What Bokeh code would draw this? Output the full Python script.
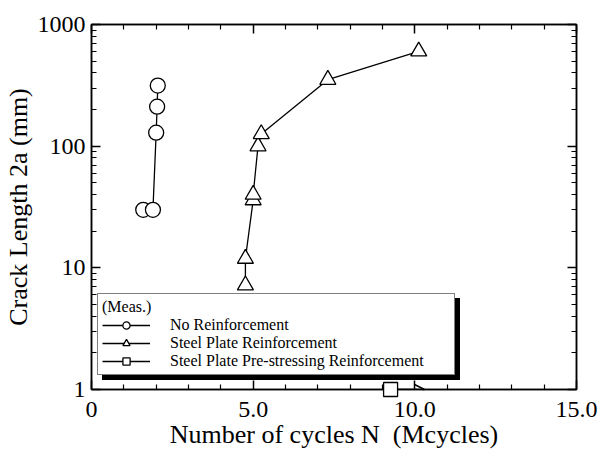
from bokeh.plotting import figure
from bokeh.models import (FixedTicker, CustomJSTickFormatter, LinearAxis, LogAxis,
                          Legend, LegendItem, Arrow, OpenHead, Range1d)
from bokeh.embed import file_html
from bokeh.resources import INLINE

# ---- data ----
no_x = [1.6, 1.9, 2.0, 2.03, 2.05]
no_y = [30, 30, 129, 211, 315]
sp_x = [4.76, 4.76, 5.0, 5.0, 5.15, 5.25, 7.31, 10.12]
sp_y = [7.2, 11.9, 36, 40, 100, 126, 352, 602]
ps_x = [9.25]
ps_y = [1]
ps_arrow_end = [10.3]

x_major = [0, 5, 10, 15]
x_minor = [1, 2, 3, 4, 6, 7, 8, 9, 11, 12, 13, 14]
y_major = [1, 10, 100, 1000]
y_minor = [m * d for d in (1, 10, 100) for m in range(2, 10)]

labels = ["No Reinforcement", "Steel Plate Reinforcement",
          "Steel Plate Pre-stressing Reinforcement"]
legend_title = "(Meas.)"

FONT = "Liberation Serif"

p = figure(frame_width=485, frame_height=365, y_axis_type="log",
           x_range=Range1d(0, 15), y_range=Range1d(1, 1000),
           output_backend="svg", toolbar_location=None,
           min_border_left=83, min_border_top=24, min_border_right=22, min_border_bottom=53)
p.grid.visible = False
p.outline_line_color = "black"
p.outline_line_width = 1.5
p.background_fill_color = "white"
p.border_fill_color = "white"

xt = FixedTicker(ticks=x_major, minor_ticks=x_minor)
yt = FixedTicker(ticks=y_major, minor_ticks=y_minor)
xfmt = CustomJSTickFormatter(code="return tick == 0 ? '0' : tick.toFixed(1);")
yfmt = CustomJSTickFormatter(code="return tick.toFixed(0);")

def style(ax, show_labels=True):
    ax.axis_line_color = "black"
    ax.axis_line_width = 1.5
    ax.major_tick_in = 9
    ax.major_tick_out = 0
    ax.minor_tick_in = 5
    ax.minor_tick_out = 0
    ax.major_tick_line_width = 1.5
    ax.minor_tick_line_width = 1.2
    ax.major_tick_line_color = "black"
    ax.minor_tick_line_color = "black"
    ax.major_label_text_font = FONT
    ax.major_label_text_font_size = "24px"
    ax.major_label_text_color = "black"
    ax.axis_label_text_font = FONT
    ax.axis_label_text_font_size = "26px"
    ax.axis_label_text_font_style = "normal"
    ax.axis_label_text_color = "black"
    if not show_labels:
        ax.major_label_text_font_size = "0px"
        ax.major_label_standoff = 0

p.xaxis.ticker = xt
p.xaxis.formatter = xfmt
p.yaxis.ticker = yt
p.yaxis.formatter = yfmt
p.xaxis.axis_label = "Number of cycles N \u00a0(Mcycles)"
p.yaxis.axis_label = "Crack Length 2a (mm)"
style(p.xaxis[0])
style(p.yaxis[0])
p.xaxis.major_label_standoff = 12
p.yaxis.major_label_standoff = 6
p.xaxis.axis_label_standoff = 0
p.yaxis.axis_label_standoff = 2

top = LinearAxis(ticker=xt, formatter=xfmt)
right = LogAxis(ticker=yt, formatter=yfmt)
style(top, False)
style(right, False)
p.add_layout(top, "above")
p.add_layout(right, "right")

# ---- series ----
l1 = p.line(no_x, no_y, line_color="black", line_width=1.3)
s1 = p.scatter(no_x, no_y, marker="circle", size=15, fill_color="white",
               line_color="black", line_width=1.3)
l2 = p.line(sp_x, sp_y, line_color="black", line_width=1.3)
s2 = p.scatter(sp_x, sp_y, marker="triangle", size=16, fill_color="white",
               line_color="black", line_width=1.3)
arrow = Arrow(x_start=ps_x[0], y_start=ps_y[0], x_end=ps_arrow_end[0], y_end=ps_y[0],
              line_color="black", line_width=1.5,
              end=OpenHead(size=10, line_color="black", line_width=1.5))
p.add_layout(arrow)
l3 = p.line(ps_x, ps_y, line_color="black", line_width=1.3)
s3 = p.scatter(ps_x, ps_y, marker="square", size=14, fill_color="white",
               line_color="black", line_width=1.3)
s3.level = "overlay"

# ---- legend (shadow + front) ----
items = [LegendItem(label=labels[0], renderers=[l1, s1]),
         LegendItem(label=labels[1], renderers=[l2, s2]),
         LegendItem(label=labels[2], renderers=[l3, s3])]

def make_legend(loc, shadow):
    return Legend(items=items, location=loc, orientation="vertical",
                  title=legend_title, title_text_font=FONT,
                  title_text_font_size="16px", title_text_font_style="normal",
                  title_text_color="black", title_standoff=0,
                  title_text_alpha=0.0 if shadow else 1.0,
                  glyph_width=48, glyph_height=18, label_height=18,
                  label_standoff=20, label_width=280, padding=4, spacing=0, margin=0,
                  label_text_font=FONT, label_text_font_size="16px",
                  label_text_color="black",
                  label_text_alpha=0.0 if shadow else 1.0,
                  border_line_color="black", border_line_width=1.5,
                  background_fill_color="black" if shadow else "white",
                  background_fill_alpha=1.0)

p.add_layout(make_legend((11, 9), True), "center")
p.add_layout(make_legend((6, 14), False), "center")

open("out.html", "w").write(file_html(p, INLINE))
